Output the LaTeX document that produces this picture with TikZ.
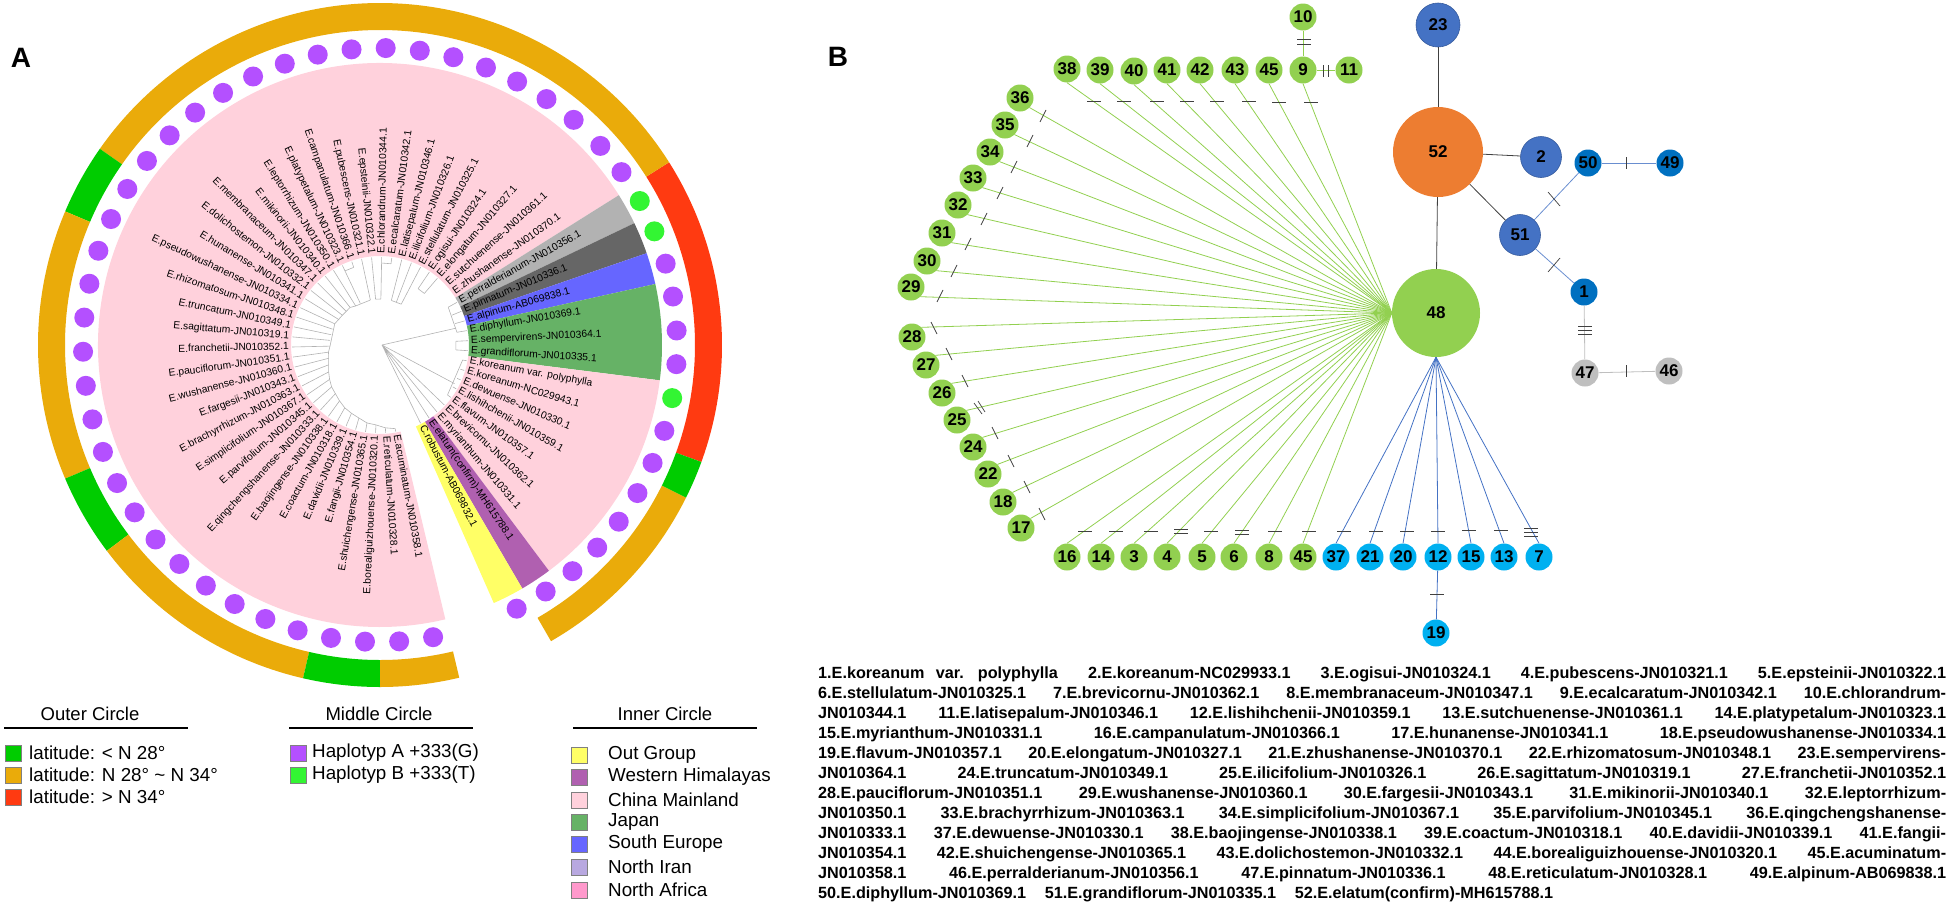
\documentclass[tikz,border=0pt]{standalone}
\usepackage{fontspec}
\setmainfont{Liberation Sans}
\usepackage{tikz}
\usetikzlibrary{calc}

\definecolor{ringorange}{HTML}{EAAB0A}
\definecolor{ringgreen}{HTML}{00CC00}
\definecolor{ringred}{HTML}{FF3A11}
\definecolor{hapA}{HTML}{B450FF}
\definecolor{hapB}{HTML}{33F533}
\definecolor{outgroup}{HTML}{FFFF66}
\definecolor{himalaya}{HTML}{B060B0}
\definecolor{china}{HTML}{FFD1DC}
\definecolor{japan}{HTML}{66B266}
\definecolor{europe}{HTML}{6666FF}
\definecolor{iran}{HTML}{B8A8E0}
\definecolor{africa}{HTML}{FF99CC}
\definecolor{nodegreen}{HTML}{92D050}
\definecolor{nodecyan}{HTML}{00B0F0}
\definecolor{nodeblue}{HTML}{4472C4}
\definecolor{nodedeep}{HTML}{0070C0}
\definecolor{nodeorange}{HTML}{ED7D31}
\definecolor{nodegray}{HTML}{BFBFBF}

\tikzset{
  taxonR/.style={anchor=mid west, inner sep=0pt, font=\fontsize{10.3}{12}\selectfont},
  taxonL/.style={anchor=mid east, inner sep=0pt, font=\fontsize{10.3}{12}\selectfont},
  treeline/.style={draw=black!30, line width=0.6pt},
  netnode/.style={circle, inner sep=0pt, minimum size=27pt, text=black, font=\fontsize{17}{17}\bfseries\selectfont},
  greennode/.style={netnode, fill=nodegreen},
  cyannode/.style={netnode, fill=nodecyan},
  deepnode/.style={netnode, fill=nodedeep},
  graynode/.style={netnode, fill=nodegray},
  bluenode/.style={netnode, fill=nodeblue, draw=nodeblue!80!black, line width=0.6pt},
  greenlink/.style={draw=nodegreen, line width=0.8pt},
  bluelink/.style={draw=nodeblue, line width=0.8pt},
  deeplink/.style={draw=nodeblue!80, line width=0.8pt},
  graylink/.style={draw=nodegray, line width=0.8pt},
  darklink/.style={draw=black!75, line width=0.8pt},
  tickline/.style={draw=black!75, line width=0.7pt},
  legendrule/.style={draw=black, line width=2.6pt},
  keybox/.style={draw=black!50, line width=0.5pt, inner sep=0pt, minimum size=16pt},
  keytext/.style={anchor=west, inner sep=0pt, font=\fontsize{18.8}{20}\selectfont},
  keytitle/.style={inner sep=0pt, font=\fontsize{18.5}{20}\selectfont},
  panel/.style={inner sep=0pt, font=\fontsize{28}{28}\bfseries\selectfont},
  specieslist/.style={anchor=north west, inner sep=0pt, text width=1128pt, font=\fontsize{16.2}{20}\bfseries\selectfont}
}

\begin{document}
\begin{tikzpicture}[x=1pt, y=-1pt]

\useasboundingbox (0,0) rectangle (1949,908);

\path (21,58) node[panel] (panelA) {A};
\path (838,57) node[panel] (panelB) {B};

%
% Circle tree
%
\begin{scope}[shift={(380,345)}, y=1pt]

% Outer circle
\fill[ringred] (-20:342) arc[start angle=-20, end angle=32.3, radius=342] -- (32.3:315) arc[start angle=32.3, end angle=-20, radius=315] -- cycle;
\fill[ringorange] (32.3:342) arc[start angle=32.3, end angle=145, radius=342] -- (145:315) arc[start angle=145, end angle=32.3, radius=315] -- cycle;
\fill[ringgreen] (145:342) arc[start angle=145, end angle=157, radius=342] -- (157:315) arc[start angle=157, end angle=145, radius=315] -- cycle;
\fill[ringorange] (157:342) arc[start angle=157, end angle=203, radius=342] -- (203:315) arc[start angle=203, end angle=157, radius=315] -- cycle;
\fill[ringgreen] (203:342) arc[start angle=203, end angle=217, radius=342] -- (217:315) arc[start angle=217, end angle=203, radius=315] -- cycle;
\fill[ringorange] (217:342) arc[start angle=217, end angle=257, radius=342] -- (257:315) arc[start angle=257, end angle=217, radius=315] -- cycle;
\fill[ringgreen] (257:342) arc[start angle=257, end angle=270, radius=342] -- (270:315) arc[start angle=270, end angle=257, radius=315] -- cycle;
\fill[ringorange] (270:342) arc[start angle=270, end angle=283.4, radius=342] -- (283.4:315) arc[start angle=283.4, end angle=270, radius=315] -- cycle;
\fill[ringorange] (-60:342) arc[start angle=-60, end angle=-26.5, radius=342] -- (-26.5:315) arc[start angle=-26.5, end angle=-60, radius=315] -- cycle;
\fill[ringgreen] (-26.5:342) arc[start angle=-26.5, end angle=-20, radius=342] -- (-20:315) arc[start angle=-20, end angle=-26.5, radius=315] -- cycle;

% Middle circle
\fill[hapA] (-79.7:297) circle [radius=10] (-86.3:297) circle [radius=10] (-92.9:297) circle [radius=10] (-99.5:297) circle [radius=10];
\fill[hapA] (-106.1:297) circle [radius=10] (-112.7:297) circle [radius=10] (-119.3:297) circle [radius=10] (-125.9:297) circle [radius=10];
\fill[hapA] (-132.5:297) circle [radius=10] (-139.1:297) circle [radius=10] (-145.7:297) circle [radius=10] (-152.3:297) circle [radius=10];
\fill[hapA] (-158.9:297) circle [radius=10] (-165.5:297) circle [radius=10] (-172.1:297) circle [radius=10] (-178.7:297) circle [radius=10];
\fill[hapA] (-185.3:297) circle [radius=10] (-191.9:297) circle [radius=10] (-198.5:297) circle [radius=10] (-205.1:297) circle [radius=10];
\fill[hapA] (-211.7:297) circle [radius=10] (-218.3:297) circle [radius=10] (-224.9:297) circle [radius=10] (-231.5:297) circle [radius=10];
\fill[hapA] (-238.1:297) circle [radius=10] (-244.7:297) circle [radius=10] (-251.3:297) circle [radius=10] (-257.9:297) circle [radius=10];
\fill[hapA] (-264.5:297) circle [radius=10] (-271.1:297) circle [radius=10] (-277.7:297) circle [radius=10] (-284.3:297) circle [radius=10];
\fill[hapA] (-290.9:297) circle [radius=10] (-297.5:297) circle [radius=10] (-304.1:297) circle [radius=10] (-310.7:297) circle [radius=10];
\fill[hapA] (42.1:297) circle [radius=10] (35.6:297) circle [radius=10];
\fill[hapB] (29:297) circle [radius=10] (22.5:297) circle [radius=10];
\fill[hapA] (15.9:297) circle [radius=10] (9.4:297) circle [radius=10] (2.8:297) circle [radius=10] (-3.7:297) circle [radius=10];
\fill[hapB] (-10.3:297) circle [radius=10];
\fill[hapA] (-16.8:297) circle [radius=10] (-23.4:297) circle [radius=10] (-29.9:297) circle [radius=10] (-36.5:297) circle [radius=10];
\fill[hapA] (-43:297) circle [radius=10] (-49.6:297) circle [radius=10] (-56.1:297) circle [radius=10] (-62.6:297) circle [radius=10];

% Inner circle
\fill[china] (32.1:282) arc[start angle=32.1, end angle=283.4, radius=282] -- (283.4:89) arc[start angle=283.4, end angle=32.1, radius=89] -- cycle;
\fill[black!30] (25.6:282) arc[start angle=25.6, end angle=32.1, radius=282] -- (32.1:89) arc[start angle=32.1, end angle=25.6, radius=89] -- cycle;
\fill[black!60] (19:282) arc[start angle=19, end angle=25.6, radius=282] -- (25.6:89) arc[start angle=25.6, end angle=19, radius=89] -- cycle;
\fill[europe] (12.5:282) arc[start angle=12.5, end angle=19, radius=282] -- (19:89) arc[start angle=19, end angle=12.5, radius=89] -- cycle;
\fill[japan] (-7.2:282) arc[start angle=-7.2, end angle=12.5, radius=282] -- (12.5:89) arc[start angle=12.5, end angle=-7.2, radius=89] -- cycle;
\fill[china] (-53.2:282) arc[start angle=-53.2, end angle=-7.2, radius=282] -- (-7.2:89) arc[start angle=-7.2, end angle=-53.2, radius=89] -- cycle;
\fill[himalaya] (-59.7:282) arc[start angle=-59.7, end angle=-53.2, radius=282] -- (-53.2:89) arc[start angle=-53.2, end angle=-59.7, radius=89] -- cycle;
\fill[outgroup] (-66.2:282) arc[start angle=-66.2, end angle=-59.7, radius=282] -- (-59.7:89) arc[start angle=-59.7, end angle=-66.2, radius=89] -- cycle;

% Tree lines, upper and left side
\draw[treeline] (49.3:68) -- (49.3:88) (55.9:68) -- (55.9:88) (62.5:46) -- (62.5:88) (69.1:46) -- (69.1:88);
\draw[treeline] (75.7:46) -- (75.7:88) (82.3:82) -- (82.3:88) (88.9:46) -- (88.9:88) (95.5:46) -- (95.5:88);
\draw[treeline] (102.1:46) -- (102.1:88) (108.7:82) -- (108.7:88) (115.3:46) -- (115.3:88) (121.9:46) -- (121.9:88);
\draw[treeline] (128.5:48) -- (128.5:88) (135.1:48) -- (135.1:88) (141.7:48) -- (141.7:88) (148.3:48) -- (148.3:88);
\draw[treeline] (154.9:50) -- (154.9:88) (161.5:50) -- (161.5:88) (168.1:50) -- (168.1:88) (174.7:50) -- (174.7:88);
\draw[treeline] (181.3:50) -- (181.3:88) (187.9:52) -- (187.9:88) (194.5:53) -- (194.5:88) (201.1:55) -- (201.1:88);
\draw[treeline] (207.7:58) -- (207.7:88) (214.3:61) -- (214.3:88) (220.9:64) -- (220.9:88) (227.5:66) -- (227.5:88);
\draw[treeline] (234.1:69) -- (234.1:88) (240.7:72) -- (240.7:88) (247.3:74) -- (247.3:88) (253.9:76) -- (253.9:88);
\draw[treeline] (260.5:79) -- (260.5:88) (267.1:80) -- (267.1:88) (273.7:83) -- (273.7:88) (280.3:85) -- (280.3:88);
\draw[treeline] (128.5:48) -- (141.7:48) -- (154.9:50) -- (181.3:50) -- (187.9:52) -- (194.5:53) -- (201.1:55) -- (207.7:58) -- (214.3:61) -- (220.9:64) -- (227.5:66) -- (234.1:69) -- (240.7:72) -- (247.3:74) -- (253.9:76) -- (260.5:79) -- (267.1:80) -- (273.7:83) -- (280.3:85);
\draw[treeline] (62.5:46) -- (75.7:46) (88.9:46) -- (95.5:46) (102.1:46) -- (121.9:46) -- (128.5:48);
\draw[treeline] (49.3:68) -- (55.9:68) (82.3:82) -- (88.9:82) (108.7:82) -- (115.3:82);

% Tree lines, right side
\draw[treeline] (29:78) -- (29:88) (22.5:78) -- (22.5:88) (15.9:78) -- (15.9:88) (9.4:78) -- (9.4:88) (2.8:76) -- (2.8:88) (-3.7:76) -- (-3.7:88);
\draw[treeline] (29:78) -- (9.4:78) (2.8:76) -- (-3.7:76);
\draw[treeline] (2,0) -- (12.5:78);
\draw[treeline] (-10.3:84) -- (-10.3:88) (-16.8:84) -- (-16.8:88) (-23.4:84) -- (-23.4:88) (-29.9:84) -- (-29.9:88) (-36.5:84) -- (-36.5:88);
\draw[treeline] (-10.3:84) -- (-36.5:84);
\draw[treeline] (2,0) -- (-27.4:84);
\draw[treeline] (2,0) -- (-43:88) (2,0) -- (-49.6:88) (2,0) -- (-56.1:88) (2,0) -- (-62.6:88);

% Taxon labels, right side
\path (42.1:91) node[taxonR, rotate=42.1] (sutchuenense) {E.sutchuenense-JN010361.1};
\path (35.6:91) node[taxonR, rotate=35.6] (zhushanense) {E.zhushanense-JN010370.1};
\path (29:91) node[taxonR, rotate=29] (perralderianum) {E.perralderianum-JN010356.1};
\path (22.5:91) node[taxonR, rotate=22.5] (pinnatum) {E.pinnatum-JN010336.1};
\path (15.9:91) node[taxonR, rotate=15.9] (alpinum) {E.alpinum-AB069838.1};
\path (9.4:91) node[taxonR, rotate=9.4] (diphyllum) {E.diphyllum-JN010369.1};
\path (2.8:91) node[taxonR, rotate=2.8] (sempervirens) {E.sempervirens-JN010364.1};
\path (-3.7:91) node[taxonR, rotate=-3.7] (grandiflorum) {E.grandiflorum-JN010335.1};
\path (-10.3:91) node[taxonR, rotate=-10.3] (polyphylla) {E.koreanum var. polyphylla};
\path (-16.8:91) node[taxonR, rotate=-16.8] (koreanum) {E.koreanum-NC029943.1};
\path (-23.4:91) node[taxonR, rotate=-23.4] (dewuense) {E.dewuense-JN010330.1};
\path (-29.9:91) node[taxonR, rotate=-29.9] (lishihchenii) {E.lishihchenii-JN010359.1};
\path (-36.5:91) node[taxonR, rotate=-36.5] (flavum) {E.flavum-JN010357.1};
\path (-43:91) node[taxonR, rotate=-43] (brevicornu) {E.brevicornu-JN010362.1};
\path (-49.6:91) node[taxonR, rotate=-49.6] (myrianthum) {E.myrianthum-JN010331.1};
\path (-56.1:91) node[taxonR, rotate=-56.1] (elatum) {E.elatum(confirm)-MH615788.1};
\path (-62.6:91) node[taxonR, rotate=-62.6] (robustum) {C.robustum-AB069832.1};

% Taxon labels, upper side
\path (49.3:91) node[taxonR, rotate=49.3] (elongatum) {E.elongatum-JN010327.1};
\path (55.9:91) node[taxonR, rotate=55.9] (ogisui) {E.ogisui-JN010324.1};
\path (62.5:91) node[taxonR, rotate=62.5] (stellulatum) {E.stellulatum-JN010325.1};
\path (69.1:91) node[taxonR, rotate=69.1] (ilicifolium) {E.ilicifolium-JN010326.1};
\path (75.7:91) node[taxonR, rotate=75.7] (latisepalum) {E.latisepalum-JN010346.1};
\path (82.3:91) node[taxonR, rotate=82.3] (ecalcaratum) {E.ecalcaratum-JN010342.1};
\path (88.9:91) node[taxonR, rotate=88.9] (chlorandrum) {E.chlorandrum-JN010344.1};

% Taxon labels, left side
\path (95.5:91) node[taxonL, rotate=275.5] (epsteinii) {E.epsteinii-JN010322.1};
\path (102.1:91) node[taxonL, rotate=282.1] (pubescens) {E.pubescens-JN010321.1};
\path (108.7:91) node[taxonL, rotate=288.7] (campanulatum) {E.campanulatum-JN010366.1};
\path (115.3:91) node[taxonL, rotate=295.3] (platypetalum) {E.platypetalum-JN010323.1};
\path (121.9:91) node[taxonL, rotate=301.9] (leptorrhizum) {E.leptorrhizum-JN010350.1};
\path (128.5:91) node[taxonL, rotate=308.5] (mikinorii) {E.mikinorii-JN010340.1};
\path (135.1:91) node[taxonL, rotate=315.1] (membranaceum) {E.membranaceum-JN010347.1};
\path (141.7:91) node[taxonL, rotate=321.7] (dolichostemon) {E.dolichostemon-JN010332.1};
\path (148.3:91) node[taxonL, rotate=328.3] (hunanense) {E.hunanense-JN010341.1};
\path (154.9:91) node[taxonL, rotate=334.9] (pseudowushanense) {E.pseudowushanense-JN010334.1};
\path (161.5:91) node[taxonL, rotate=341.5] (rhizomatosum) {E.rhizomatosum-JN010348.1};
\path (168.1:91) node[taxonL, rotate=348.1] (truncatum) {E.truncatum-JN010349.1};
\path (174.7:91) node[taxonL, rotate=354.7] (sagittatum) {E.sagittatum-JN010319.1};
\path (181.3:91) node[taxonL, rotate=1.3] (franchetii) {E.franchetii-JN010352.1};
\path (187.9:91) node[taxonL, rotate=7.9] (pauciflorum) {E.pauciflorum-JN010351.1};
\path (194.5:91) node[taxonL, rotate=14.5] (wushanense) {E.wushanense-JN010360.1};
\path (201.1:91) node[taxonL, rotate=21.1] (fargesii) {E.fargesii-JN010343.1};
\path (207.7:91) node[taxonL, rotate=27.7] (brachyrrhizum) {E.brachyrrhizum-JN010363.1};
\path (214.3:91) node[taxonL, rotate=34.3] (simplicifolium) {E.simplicifolium-JN010367.1};
\path (220.9:91) node[taxonL, rotate=40.9] (parvifolium) {E.parvifolium-JN010345.1};
\path (227.5:91) node[taxonL, rotate=47.5] (qingchengshanense) {E.qingchengshanense-JN010333.1};
\path (234.1:91) node[taxonL, rotate=54.1] (baojingense) {E.baojingense-JN010338.1};
\path (240.7:91) node[taxonL, rotate=60.7] (coactum) {E.coactum-JN010318.1};
\path (247.3:91) node[taxonL, rotate=67.3] (davidii) {E.davidii-JN010339.1};
\path (253.9:91) node[taxonL, rotate=73.9] (fangii) {E.fangii-JN010354.1};
\path (260.5:91) node[taxonL, rotate=80.5] (shuichengense) {E.shuichengense-JN010365.1};
\path (267.1:91) node[taxonL, rotate=87.1] (borealiguizhouense) {E.borealiguizhouense-JN010320.1};

% Taxon labels, bottom side
\path (273.7:91) node[taxonR, rotate=273.7] (reticulatum) {E.reticulatum-JN010328.1};
\path (280.3:91) node[taxonR, rotate=280.3] (acuminatum) {E.acuminatum-JN010358.1};

\end{scope}

%
% Legend
%
\path (90,714) node[keytitle] (outerT) {Outer Circle};
\draw[legendrule] (4,728) -- (188,728);
\path (13,753) node[keybox, fill=ringgreen] (outerK1) {};
\path (29,753) node[keytext] (outerL1) {latitude: < N 28°};
\path (13,775) node[keybox, fill=ringorange] (outerK2) {};
\path (29,775) node[keytext] (outerL2) {latitude: N 28° \textasciitilde{} N 34°};
\path (13,797) node[keybox, fill=ringred] (outerK3) {};
\path (29,797) node[keytext] (outerL3) {latitude: > N 34°};

\path (379,714) node[keytitle] (middleT) {Middle Circle};
\draw[legendrule] (289,728) -- (473,728);
\path (298,753) node[keybox, fill=hapA] (middleK1) {};
\path (312,753) node[keytext] (middleL1) {Haplotyp A +333(G)};
\path (298,775) node[keybox, fill=hapB] (middleK2) {};
\path (312,775) node[keytext] (middleL2) {Haplotyp B +333(T)};

\path (665,714) node[keytitle] (innerT) {Inner Circle};
\draw[legendrule] (573,728) -- (757,728);
\path (579,755) node[keybox, fill=outgroup] (innerK1) {};
\path (608,755) node[keytext] (innerL1) {Out Group};
\path (579,777) node[keybox, fill=himalaya] (innerK2) {};
\path (608,777) node[keytext] (innerL2) {Western Himalayas};
\path (579,800) node[keybox, fill=china] (innerK3) {};
\path (608,800) node[keytext] (innerL3) {China Mainland};
\path (579,822) node[keybox, fill=japan] (innerK4) {};
\path (608,822) node[keytext] (innerL4) {Japan};
\path (579,844) node[keybox, fill=europe] (innerK5) {};
\path (608,844) node[keytext] (innerL5) {South Europe};
\path (579,867) node[keybox, fill=iran] (innerK6) {};
\path (608,867) node[keytext] (innerL6) {North Iran};
\path (579,890) node[keybox, fill=africa] (innerK7) {};
\path (608,890) node[keytext] (innerL7) {North Africa};

%
% Haplotype network
%

% Large nodes
\path (1436,313) node[greennode, minimum size=88pt] (n48) {48};
\path (1438,152) node[netnode, fill=nodeorange, minimum size=90pt] (n52) {52};
\path (1438,25) node[bluenode, minimum size=44pt] (n23) {23};
\path (1541,157) node[bluenode, minimum size=41pt] (n2) {2};
\path (1520,235) node[bluenode, minimum size=41pt] (n51) {51};

% Blue group
\path (1588,163) node[deepnode] (n50) {50};
\path (1670,163) node[deepnode] (n49) {49};
\path (1584,292) node[deepnode] (n1) {1};

% Gray group
\path (1585,373) node[graynode] (n47) {47};
\path (1669,371) node[graynode] (n46) {46};

% Top row
\path (1303,17) node[greennode] (n10) {10};
\path (1067,69) node[greennode] (n38) {38};
\path (1100,70) node[greennode] (n39) {39};
\path (1134,71) node[greennode] (n40) {40};
\path (1167,70) node[greennode] (n41) {41};
\path (1200,70) node[greennode] (n42) {42};
\path (1235,70) node[greennode] (n43) {43};
\path (1269,70) node[greennode] (n45top) {45};
\path (1303,70) node[greennode] (n9) {9};
\path (1349,70) node[greennode] (n11) {11};

% Left side
\path (1020,98) node[greennode] (n36) {36};
\path (1005,125) node[greennode] (n35) {35};
\path (990,152) node[greennode] (n34) {34};
\path (973,178) node[greennode] (n33) {33};
\path (958,205) node[greennode] (n32) {32};
\path (942,233) node[greennode] (n31) {31};
\path (927,261) node[greennode] (n30) {30};
\path (911,287) node[greennode] (n29) {29};
\path (912,337) node[greennode] (n28) {28};
\path (926,365) node[greennode] (n27) {27};
\path (942,393) node[greennode] (n26) {26};
\path (957,420) node[greennode] (n25) {25};
\path (973,447) node[greennode] (n24) {24};
\path (988,474) node[greennode] (n22) {22};
\path (1003,502) node[greennode] (n18) {18};
\path (1021,528) node[greennode] (n17) {17};

% Bottom row
\path (1067,557) node[greennode] (n16) {16};
\path (1101,557) node[greennode] (n14) {14};
\path (1134,557) node[greennode] (n3) {3};
\path (1167,557) node[greennode] (n4) {4};
\path (1202,557) node[greennode] (n5) {5};
\path (1234,557) node[greennode] (n6) {6};
\path (1269,557) node[greennode] (n8) {8};
\path (1303,557) node[greennode] (n45low) {45};
\path (1336,557) node[cyannode] (n37) {37};
\path (1370,557) node[cyannode] (n21) {21};
\path (1403,557) node[cyannode] (n20) {20};
\path (1438,557) node[cyannode] (n12) {12};
\path (1471,557) node[cyannode] (n15) {15};
\path (1504,557) node[cyannode] (n13) {13};
\path (1539,557) node[cyannode] (n7) {7};
\path (1436,633) node[cyannode] (n19) {19};

% Links of 48, top row
\draw[greenlink] (n38.south) -- (n48.west);
\draw[greenlink] (n39.south) -- (n48.west);
\draw[greenlink] (n40.south) -- (n48.west);
\draw[greenlink] (n41.south) -- (n48.west);
\draw[greenlink] (n42.south) -- (n48.west);
\draw[greenlink] (n43.south) -- (n48.west);
\draw[greenlink] (n45top.south) -- (n48.west);
\draw[greenlink] (n9.south) -- (n48.west);
\draw[greenlink] (n10) -- (n9);
\draw[greenlink] (n9) -- (n11);

% Links of 48, left side
\draw[greenlink] (n36.south east) -- (n48.west);
\draw[greenlink] (n35.south east) -- (n48.west);
\draw[greenlink] (n34.south east) -- (n48.west);
\draw[greenlink] (n33.south east) -- (n48.west);
\draw[greenlink] (n32.south east) -- (n48.west);
\draw[greenlink] (n31.south east) -- (n48.west);
\draw[greenlink] (n30.south east) -- (n48.west);
\draw[greenlink] (n29.south east) -- (n48.west);
\draw[greenlink] (n28.north east) -- (n48.west);
\draw[greenlink] (n27.north east) -- (n48.west);
\draw[greenlink] (n26.north east) -- (n48.west);
\draw[greenlink] (n25.north east) -- (n48.west);
\draw[greenlink] (n24.north east) -- (n48.west);
\draw[greenlink] (n22.north east) -- (n48.west);
\draw[greenlink] (n18.north east) -- (n48.west);
\draw[greenlink] (n17.north east) -- (n48.west);

% Links of 48, bottom row
\draw[greenlink] (n16.north) -- (n48.west);
\draw[greenlink] (n14.north) -- (n48.west);
\draw[greenlink] (n3.north) -- (n48.west);
\draw[greenlink] (n4.north) -- (n48.west);
\draw[greenlink] (n5.north) -- (n48.west);
\draw[greenlink] (n6.north) -- (n48.west);
\draw[greenlink] (n8.north) -- (n48.west);
\draw[greenlink] (n45low.north) -- (n48.west);
\draw[bluelink] (n37.north) -- (n48.south);
\draw[bluelink] (n21.north) -- (n48.south);
\draw[bluelink] (n20.north) -- (n48.south);
\draw[bluelink] (n12.north) -- (n48.south);
\draw[bluelink] (n15.north) -- (n48.south);
\draw[bluelink] (n13.north) -- (n48.south);
\draw[bluelink] (n7.north) -- (n48.south);
\draw[bluelink] (n12) -- (n19);

% Links of 52
\draw[darklink] (n52) -- (n23);
\draw[darklink] (n52) -- (n48);
\draw[darklink] (n52) -- (n2);
\draw[darklink] (n52) -- (n51);
\draw[deeplink] (n51) -- (n50);
\draw[deeplink] (n50) -- (n49);
\draw[deeplink] (n51) -- (n1);
\draw[graylink] (n1) -- (n47);
\draw[graylink] (n47) -- (n46);

% Ticks, top
\draw[tickline] (1297,39) -- (1311,39) (1297,44) -- (1311,44);
\draw[tickline] (1323,65) -- (1323,77) (1328,65) -- (1328,77);
\draw[tickline] (1087,101) -- (1101,101) (1117,101) -- (1131,101) (1150,101) -- (1164,101) (1180,101) -- (1194,101);
\draw[tickline] (1210,101) -- (1224,101) (1242,101) -- (1256,101) (1272,102) -- (1286,102) (1304,102) -- (1318,102);

% Ticks, left
\draw[tickline] (1046,110) -- (1040,122) (1033,135) -- (1027,147) (1017,161) -- (1011,173) (1003,187) -- (997,199);
\draw[tickline] (987,213) -- (981,225) (971,238) -- (965,250) (957,265) -- (951,277) (943,290) -- (937,302);
\draw[tickline] (931,322) -- (937,334) (946,348) -- (952,360) (962,375) -- (968,387);
\draw[tickline] (974,403) -- (982,414) (978,401) -- (985,412);
\draw[tickline] (992,427) -- (998,439) (1008,455) -- (1014,467) (1024,481) -- (1030,493) (1039,508) -- (1045,520);

% Ticks, bottom
\draw[tickline] (1078,531) -- (1092,531) (1109,531) -- (1123,531) (1144,531) -- (1158,531);
\draw[tickline] (1174,529) -- (1188,529) (1174,533) -- (1188,533);
\draw[tickline] (1204,531) -- (1218,531);
\draw[tickline] (1235,530) -- (1249,530) (1235,534) -- (1249,534);
\draw[tickline] (1268,531) -- (1282,531) (1302,531) -- (1316,531);
\draw[tickline] (1337,531) -- (1351,531) (1369,531) -- (1383,531) (1400,531) -- (1414,531) (1431,531) -- (1445,531);
\draw[tickline] (1462,530) -- (1476,530) (1494,530) -- (1508,530);
\draw[tickline] (1524,528) -- (1538,528) (1524,532) -- (1538,532) (1524,536) -- (1538,536);
\draw[tickline] (1430,594) -- (1444,594);

% Ticks, right
\draw[tickline] (1548,192) -- (1560,206);
\draw[tickline] (1560,258) -- (1548,272);
\draw[tickline] (1626,157) -- (1626,169);
\draw[tickline] (1578,326) -- (1592,326) (1578,330) -- (1592,330) (1578,334) -- (1592,334);
\draw[tickline] (1626,365) -- (1626,377);

%
% Species list
%
\path (818,667) node[specieslist] (species) {%
\hbox to 1128pt{1.E.koreanum\hspace{6pt} var.\hspace{6pt} polyphylla\hfill 2.E.koreanum-NC029933.1\hfill 3.E.ogisui-JN010324.1\hfill 4.E.pubescens-JN010321.1\hfill 5.E.epsteinii-JN010322.1}
\hbox to 1128pt{6.E.stellulatum-JN010325.1\hfill 7.E.brevicornu-JN010362.1\hfill 8.E.membranaceum-JN010347.1\hfill 9.E.ecalcaratum-JN010342.1\hfill 10.E.chlorandrum-}
\hbox to 1128pt{JN010344.1\hfill 11.E.latisepalum-JN010346.1\hfill 12.E.lishihchenii-JN010359.1\hfill 13.E.sutchuenense-JN010361.1\hfill 14.E.platypetalum-JN010323.1}
\hbox to 1128pt{15.E.myrianthum-JN010331.1\hfill 16.E.campanulatum-JN010366.1\hfill 17.E.hunanense-JN010341.1\hfill 18.E.pseudowushanense-JN010334.1}
\hbox to 1128pt{19.E.flavum-JN010357.1\hfill 20.E.elongatum-JN010327.1\hfill 21.E.zhushanense-JN010370.1\hfill 22.E.rhizomatosum-JN010348.1\hfill 23.E.sempervirens-}
\hbox to 1128pt{JN010364.1\hfill 24.E.truncatum-JN010349.1\hfill 25.E.ilicifolium-JN010326.1\hfill 26.E.sagittatum-JN010319.1\hfill 27.E.franchetii-JN010352.1}
\hbox to 1128pt{28.E.pauciflorum-JN010351.1\hfill 29.E.wushanense-JN010360.1\hfill 30.E.fargesii-JN010343.1\hfill 31.E.mikinorii-JN010340.1\hfill 32.E.leptorrhizum-}
\hbox to 1128pt{JN010350.1\hfill 33.E.brachyrrhizum-JN010363.1\hfill 34.E.simplicifolium-JN010367.1\hfill 35.E.parvifolium-JN010345.1\hfill 36.E.qingchengshanense-}
\hbox to 1128pt{JN010333.1\hfill 37.E.dewuense-JN010330.1\hfill 38.E.baojingense-JN010338.1\hfill 39.E.coactum-JN010318.1\hfill 40.E.davidii-JN010339.1\hfill 41.E.fangii-}
\hbox to 1128pt{JN010354.1\hfill 42.E.shuichengense-JN010365.1\hfill 43.E.dolichostemon-JN010332.1\hfill 44.E.borealiguizhouense-JN010320.1\hfill 45.E.acuminatum-}
\hbox to 1128pt{JN010358.1\hfill 46.E.perralderianum-JN010356.1\hfill 47.E.pinnatum-JN010336.1\hfill 48.E.reticulatum-JN010328.1\hfill 49.E.alpinum-AB069838.1}
\hbox to 735pt{50.E.diphyllum-JN010369.1\hfill 51.E.grandiflorum-JN010335.1\hfill 52.E.elatum(confirm)-MH615788.1}
};

\end{tikzpicture}
\end{document}
